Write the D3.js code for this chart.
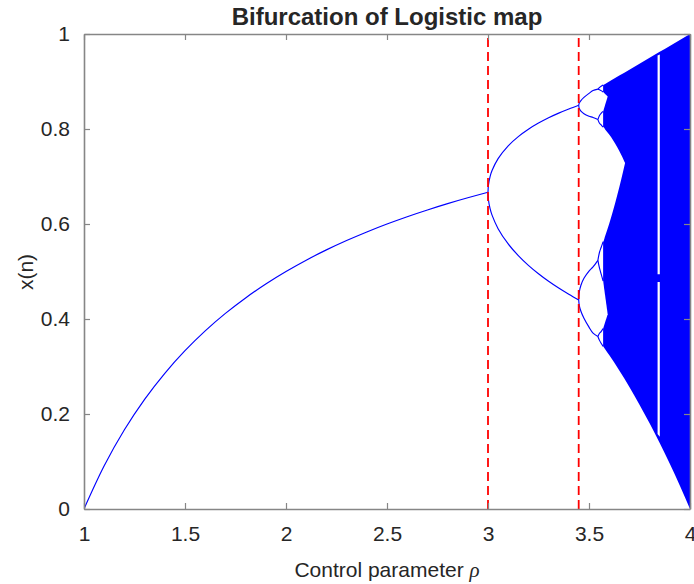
<!DOCTYPE html>
<html><head><meta charset="utf-8">
<script src="https://cdn.jsdelivr.net/npm/d3@7"></script>
<style>
html,body{margin:0;padding:0;background:#fff;}
svg{display:block;}
text{font-family:"Liberation Sans",Arial,Helvetica,sans-serif;fill:#262626;}
</style></head>
<body>
<svg id="chart" width="694" height="584"></svg>
<script>
// ---- data ----
const xTicks = [1, 1.5, 2, 2.5, 3, 3.5, 4];
const xTickLabels = ["1", "1.5", "2", "2.5", "3", "3.5", "4"];
const yTicks = [0, 0.2, 0.4, 0.6, 0.8, 1];
const yTickLabels = ["0", "0.2", "0.4", "0.6", "0.8", "1"];
const dashedAt = [3, 3.449];

// fixed point branch
const rStable = [1, 1.1, 1.2, 1.3, 1.4, 1.5, 1.6, 1.7, 1.8, 1.9, 2, 2.1, 2.2, 2.3, 2.4, 2.5, 2.6, 2.7, 2.8, 2.9, 3];
const xStable = [0, 0.0909, 0.1667, 0.2308, 0.2857, 0.3333, 0.375, 0.4118, 0.4444, 0.4737, 0.5, 0.5238, 0.5455, 0.5652, 0.5833, 0.6, 0.6154, 0.6296, 0.6429, 0.6552, 0.6667];

// period-2 branches
const rP2 = [3, 3.002, 3.01, 3.02, 3.05, 3.1, 3.15, 3.2, 3.25, 3.3, 3.35, 3.4, 3.449];
const xP2Upper = [0.6667, 0.6814, 0.6994, 0.7125, 0.7377, 0.7646, 0.784, 0.7995, 0.8124, 0.8236, 0.8334, 0.8421, 0.8499];
const xP2Lower = [0.6667, 0.6516, 0.6328, 0.6186, 0.5902, 0.558, 0.5335, 0.513, 0.4953, 0.4794, 0.4651, 0.452, 0.4399];

// period-4 branches
const rP4 = [3.449, 3.452, 3.46, 3.475, 3.5, 3.52, 3.544];
const xP4a = [0.8499, 0.8546, 0.8598, 0.8665, 0.875, 0.8809, 0.884];
const xP4b = [0.8499, 0.843, 0.8375, 0.8321, 0.8269, 0.8242, 0.8198];
const xP4c = [0.4399, 0.4569, 0.471, 0.4857, 0.5009, 0.5096, 0.5235];
const xP4d = [0.4399, 0.4283, 0.4162, 0.4014, 0.3828, 0.3703, 0.3633];

// period-8 branches
const rP8 = [3.544, 3.552, 3.56, 3.5699];
const xP8 = [
  [0.884, 0.8873, 0.8899, 0.8925],
  [0.884, 0.8826, 0.8808, 0.878],
  [0.8198, 0.8285, 0.833, 0.837],
  [0.8198, 0.8122, 0.8087, 0.804],
  [0.5235, 0.5405, 0.5506, 0.5626],
  [0.5235, 0.507, 0.495, 0.48],
  [0.3633, 0.37, 0.3736, 0.38],
  [0.3633, 0.355, 0.3489, 0.3425]
];

// chaotic band envelope
const rChaos = [3.5699, 3.58, 3.6, 3.65, 3.7, 3.75, 3.8, 3.85, 3.9, 3.95, 4];
const chaosTop = [0.8925, 0.895, 0.9, 0.9125, 0.925, 0.9375, 0.95, 0.9625, 0.975, 0.9875, 1];
const chaosBottom = [0.3425, 0.3364, 0.324, 0.2914, 0.2567, 0.2197, 0.1805, 0.139, 0.0951, 0.0488, 0];

// white gaps inside the chaotic band
const rHoleA = [3.566, 3.5699, 3.58, 3.6, 3.62, 3.64, 3.66, 3.67, 3.6786];
const holeATop = [0.804, 0.804, 0.7992, 0.7885, 0.776, 0.7616, 0.7453, 0.7363, 0.7282];
const holeABottom = [0.5626, 0.5626, 0.5745, 0.6004, 0.6293, 0.6608, 0.6948, 0.7126, 0.7282];
const rHoleB = [3.566, 3.5699, 3.5925];
const holeBTop = [0.878, 0.878, 0.8685];
const holeBBottom = [0.837, 0.837, 0.8685];
const holeCTop = [0.48, 0.48, 0.41];
const holeCBottom = [0.38, 0.38, 0.41];

// period-3 window (white stripe)
const rWindow = [3.8395, 3.8505];
const win1Top = [0.955, 0.957];
const win1Bottom = [0.494, 0.494];
const win2Top = [0.478, 0.478];
const win2Bottom = [0.158, 0.152];

// ---- drawing ----
const svg = d3.select("#chart");
const L = 84, R = 690, T = 34, B = 509;
const x = d3.scaleLinear().domain([1, 4]).range([L, R]);
const y = d3.scaleLinear().domain([0, 1]).range([B, T]);

const plot = svg.append("g");
plot.append("clipPath").attr("id", "clip").append("rect")
  .attr("x", L).attr("y", T).attr("width", R - L).attr("height", B - T);
const g = plot.append("g").attr("clip-path", "url(#clip)");

const zip = (rs, xs) => rs.map((r, i) => [r, xs[i]]);
const lineCR = d3.line().x(d => x(d[0])).y(d => y(d[1])).curve(d3.curveCatmullRom.alpha(0.5));
const area = d3.area().x(d => x(d.r)).y0(d => y(d.lo)).y1(d => y(d.hi)).curve(d3.curveMonotoneX);
const areaLin = d3.area().x(d => x(d.r)).y0(d => y(d.lo)).y1(d => y(d.hi));
const band = (rs, hi, lo) => rs.map((r, i) => ({r, hi: hi[i], lo: lo[i]}));

const blue = "#0000ff";
// chaos fill
g.append("path").attr("d", area(band(rChaos, chaosTop, chaosBottom))).attr("fill", blue);
g.append("path").attr("d", area(band(rHoleA, holeATop, holeABottom))).attr("fill", "#fff");
g.append("path").attr("d", areaLin(band(rHoleB, holeBTop, holeBBottom))).attr("fill", "#fff");
g.append("path").attr("d", areaLin(band(rHoleB, holeCTop, holeCBottom))).attr("fill", "#fff");
g.append("path").attr("d", areaLin(band(rWindow, win1Top, win1Bottom))).attr("fill", "#fff");
g.append("path").attr("d", areaLin(band(rWindow, win2Top, win2Bottom))).attr("fill", "#fff");

const curves = [
  zip(rStable, xStable),
  zip(rP2, xP2Upper), zip(rP2, xP2Lower),
  zip(rP4, xP4a), zip(rP4, xP4b), zip(rP4, xP4c), zip(rP4, xP4d),
  ...xP8.map(s => zip(rP8, s))
];
g.selectAll("path.branch").data(curves).join("path").attr("class", "branch")
  .attr("d", d => lineCR(d)).attr("fill", "none").attr("stroke", blue).attr("stroke-width", 1.15);

// dashed red lines
g.selectAll("line.dash").data(dashedAt).join("line").attr("class", "dash")
  .attr("x1", d => x(d)).attr("x2", d => x(d)).attr("y1", y(0)).attr("y2", y(1))
  .attr("stroke", "#ff0000").attr("stroke-width", 1.8).attr("stroke-dasharray", "9,5");

// axes
const axisColor = "#868686";
const fmtX = (d, i) => xTickLabels[i];
const fmtY = (d, i) => yTickLabels[i];
const ax = [
  {gen: d3.axisBottom(x).tickValues(xTicks).tickFormat(fmtX).tickSizeInner(-6).tickSizeOuter(0).tickPadding(17), t: `translate(0,${B})`},
  {gen: d3.axisTop(x).tickValues(xTicks).tickFormat("").tickSizeInner(-6).tickSizeOuter(0), t: `translate(0,${T})`},
  {gen: d3.axisLeft(y).tickValues(yTicks).tickFormat(fmtY).tickSizeInner(-6).tickSizeOuter(0).tickPadding(14), t: `translate(${L},0)`},
  {gen: d3.axisRight(y).tickValues(yTicks).tickFormat("").tickSizeInner(-6).tickSizeOuter(0), t: `translate(${R},0)`}
];
ax.forEach(a => {
  const s = svg.append("g").attr("transform", a.t).call(a.gen);
  s.select(".domain").attr("stroke", axisColor).attr("stroke-width", 1.6);
  s.selectAll(".tick line").attr("stroke", axisColor).attr("stroke-width", 1.2);
  s.selectAll(".tick text").attr("fill", "#262626").style("font-size", "21px")
    .style("font-family", '"Liberation Sans", Arial, sans-serif');
});

// titles
svg.append("text").attr("x", (L + R) / 2).attr("y", 25).attr("text-anchor", "middle")
  .style("font-size", "24px").style("font-weight", "bold").attr("fill", "#000")
  .text("Bifurcation of Logistic map");
const xl = svg.append("text").attr("x", (L + R) / 2).attr("y", 577).attr("text-anchor", "middle")
  .style("font-size", "21px");
xl.append("tspan").text("Control parameter ");
xl.append("tspan").style("font-style", "italic").style("font-family", '"Liberation Serif", serif').text("ρ");
svg.append("text").attr("transform", `translate(33,272) rotate(-90)`).attr("text-anchor", "middle")
  .style("font-size", "21px").text("x(n)");
</script>
</body></html>
